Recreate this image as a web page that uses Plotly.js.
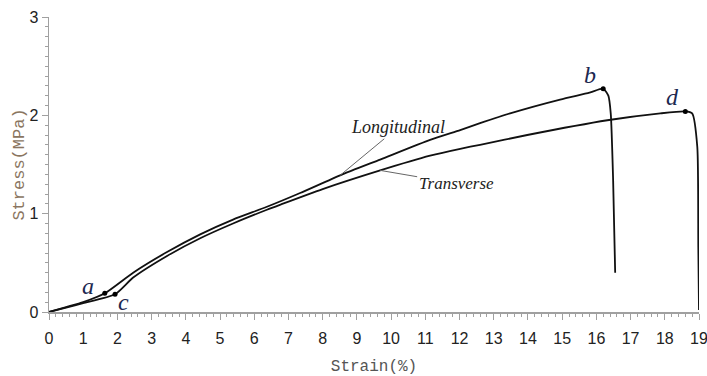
<!DOCTYPE html>
<html><head><meta charset="utf-8">
<script src="https://cdn.plot.ly/plotly-3.0.1.min.js"></script>
<style>html,body{margin:0;padding:0;background:#fff}#chart{width:707px;height:376px}</style>
</head><body><div id="chart"></div>
<script>
// Longitudinal curve (strain %, stress MPa)
const longStrain = [0, 0.5, 1.0, 1.63, 2.46, 3.45, 4.42, 5.38, 6.37, 7.34, 8.51, 9.68, 11.14, 12.02, 12.6, 13.48, 14.94, 15.8, 16.2, 16.35, 16.42, 16.49, 16.55];
const longStress = [0, 0.05, 0.10, 0.19, 0.40, 0.61, 0.79, 0.94, 1.07, 1.21, 1.39, 1.55, 1.75, 1.85, 1.92, 2.02, 2.16, 2.23, 2.27, 2.2, 2.02, 1.34, 0.40];
// Transverse curve
const transStrain = [0, 0.5, 1.0, 1.93, 2.46, 3.45, 4.42, 5.38, 6.37, 6.75, 8.0, 9.68, 11.14, 12.02, 12.6, 13.98, 16.32, 17.87, 18.6, 18.8, 18.95, 18.98, 19.0];
const transStress = [0, 0.045, 0.09, 0.18, 0.35, 0.57, 0.75, 0.90, 1.04, 1.09, 1.25, 1.44, 1.59, 1.66, 1.70, 1.80, 1.95, 2.02, 2.04, 2.02, 1.68, 0.66, 0.02];
// Marked points a, b, c, d
const pointLabels = ['a', 'b', 'c', 'd'];
const pointStrain = [1.63, 16.2, 1.93, 18.6];
const pointStress = [0.19, 2.27, 0.18, 2.04];
// Axis ticks
const xTicks = [0,1,2,3,4,5,6,7,8,9,10,11,12,13,14,15,16,17,18,19];
const yTicks = [0,1,2,3];

const lineStyle = {color:'#111', width:1.8, shape:'spline', smoothing:0.6};
const traces = [
  {x:longStrain, y:longStress, mode:'lines', line:lineStyle, name:'Longitudinal', hoverinfo:'skip'},
  {x:transStrain, y:transStress, mode:'lines', line:lineStyle, name:'Transverse', hoverinfo:'skip'},
  {x:pointStrain, y:pointStress, mode:'markers', marker:{color:'#000', size:5}, hoverinfo:'skip'}
];

const letterShift = {a:[-17,7], b:[-13,14], c:[8,-8], d:[-13,14]};
const annotations = pointLabels.map((t,i)=>({
  x:pointStrain[i], y:pointStress[i], text:t, showarrow:false,
  xshift:letterShift[t][0], yshift:letterShift[t][1],
  font:{family:'Liberation Serif', size:24, color:'#1c2850', style:'italic'}
}));
annotations.push({x:longStrain[10], y:longStress[10], text:'Longitudinal', showarrow:true, arrowhead:0,
  arrowcolor:'#666', arrowwidth:1, ax:58, ay:-48,
  font:{family:'Liberation Serif', size:18, color:'#222', style:'italic'}});
annotations.push({x:transStrain[11], y:transStress[11], text:'Transverse', showarrow:true, arrowhead:0,
  arrowcolor:'#666', arrowwidth:1, ax:76, ay:13,
  font:{family:'Liberation Serif', size:17, color:'#222', style:'italic'}});

const axisCommon = {showgrid:false, zeroline:false, showline:true, linecolor:'#a0a0a0', linewidth:1.5,
  ticks:'outside', tickcolor:'#a0a0a0', tickwidth:1, ticklen:6, ticklabeloverflow:'allow',
  tickfont:{family:'Liberation Sans', size:16, color:'#222'}};

const layout = {
  width:707, height:376, showlegend:false,
  margin:{l:49, r:8, t:17, b:64},
  paper_bgcolor:'#fff', plot_bgcolor:'#fff',
  xaxis:Object.assign({}, axisCommon, {range:[0,19], tickvals:xTicks, ticktext:xTicks.map(String),
    ticklabelstandoff:5,
    minor:{dtick:0.2, ticks:'outside', ticklen:3, tickcolor:'#a0a0a0'},
    title:{text:'Strain(%)', standoff:18, font:{family:'Liberation Mono', size:16, color:'#555'}}}),
  yaxis:Object.assign({}, axisCommon, {range:[0,3], tickvals:yTicks, ticktext:yTicks.map(String),
    minor:{dtick:0.1, ticks:'outside', ticklen:3, tickcolor:'#a0a0a0'},
    title:{text:'Stress(MPa)', standoff:0, font:{family:'Liberation Mono', size:17, color:'#8a7560'}}}),
  annotations:annotations
};
Plotly.newPlot('chart', traces, layout, {displayModeBar:false, staticPlot:true});
</script></body></html>
